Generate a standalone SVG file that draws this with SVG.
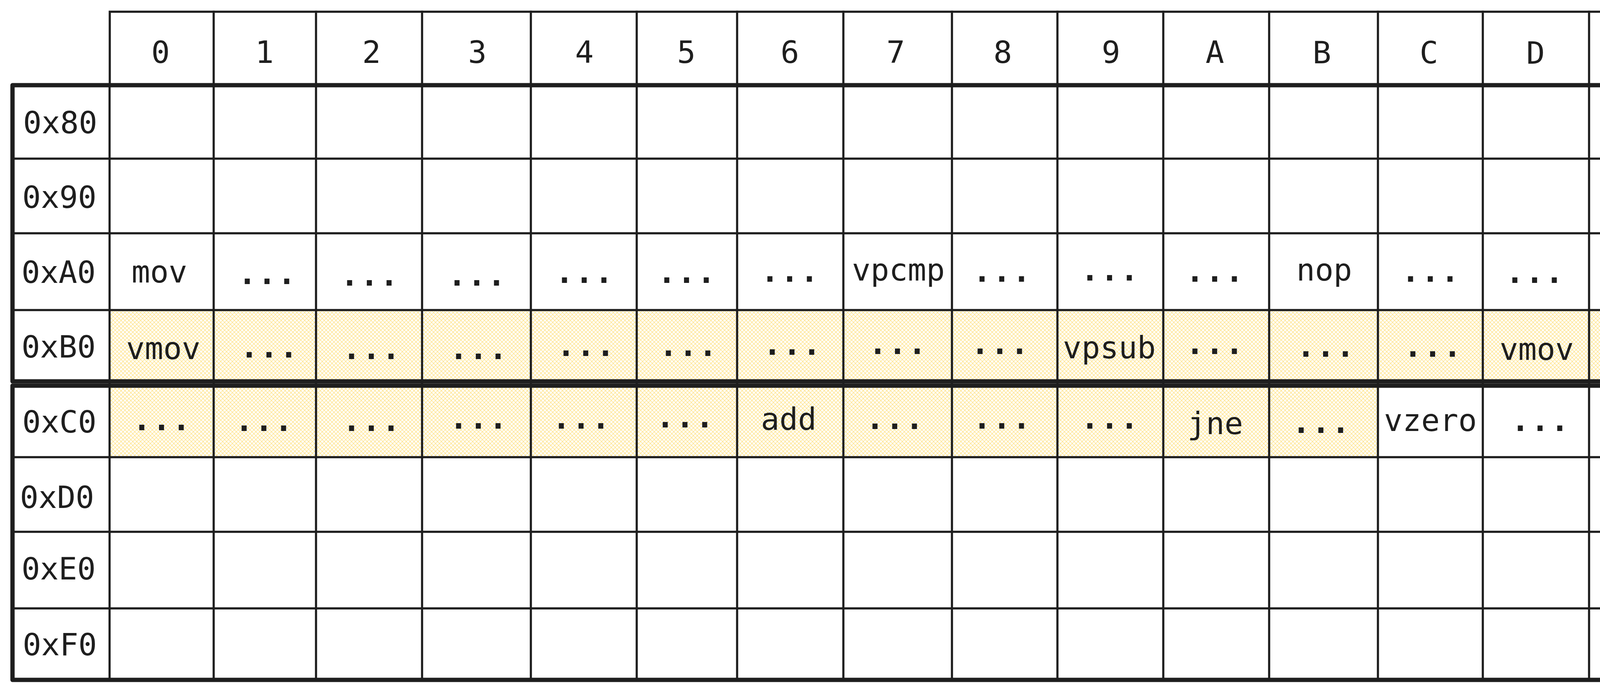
<svg xmlns="http://www.w3.org/2000/svg" width="5056" height="1771" viewBox="0 0 5056 1771">
<style>
.t{font-family:"DejaVu Sans Mono","Liberation Mono",monospace;font-size:79px;fill:#1e1e1e;text-anchor:middle}
.d{font-weight:bold;letter-spacing:3px}
.thin{stroke:#1e1e1e;stroke-width:5.5;fill:none;stroke-linecap:square}
.thick{stroke:#1e1e1e;stroke-width:11;fill:none;stroke-linejoin:round}
.br{stroke:#1e1e1e;fill:none;stroke-linecap:round;stroke-linejoin:round}
</style>
<defs>
<pattern id="xh" patternUnits="userSpaceOnUse" width="10" height="10">
<path d="M-1,-1 L11,11 M-1,11 L11,-1" stroke="#ffe38a" stroke-width="1.4" fill="none"/>
</pattern>
</defs>
<rect width="5056" height="1771" fill="#ffffff"/>

<g id="highlight">
<rect x="280.5" y="793.5" width="4320.5" height="182.5" fill="url(#xh)"/>
<rect x="280.5" y="987" width="3247" height="183" fill="url(#xh)"/>
</g>

<g id="grid">
<rect class="thin" x="281" y="30" width="4320" height="188"/>
<path class="thin" d="M547,30V1740 M809,30V1740 M1080.5,30V1740 M1359,30V1740 M1630,30V1740 M1887,30V1740 M2159,30V1740 M2437,30V1740 M2707,30V1740 M2978,30V1740 M3249,30V1740 M3527.5,30V1740 M3796,30V1740 M4068,30V1740 M4338.5,30V1740 M280.5,218V1740"/>
<path class="thin" d="M32,406H4601 M32,597H4601 M32,793.5H4601 M32,1170H4601 M32,1361H4601 M32,1557H4601"/>
<rect id="cacheline-1" class="thick" x="32" y="218" width="4569.5" height="758"/>
<rect id="cacheline-2" class="thick" x="32" y="987" width="4569.5" height="753"/>
</g>

<g id="header">
<text class="t" x="411" y="161">0</text>
<text class="t" x="677" y="161">1</text>
<text class="t" x="951" y="161">2</text>
<text class="t" x="1222" y="161">3</text>
<text class="t" x="1496" y="161">4</text>
<text class="t" x="1757" y="161">5</text>
<text class="t" x="2022" y="161">6</text>
<text class="t" x="2293" y="161">7</text>
<text class="t" x="2567" y="161">8</text>
<text class="t" x="2844" y="161">9</text>
<text class="t" x="3110" y="161">A</text>
<text class="t" x="3384" y="162">B</text>
<text class="t" x="3658" y="162">C</text>
<text class="t" x="3931" y="163">D</text>
<text class="t" x="4198" y="162">E</text>
<text class="t" x="4471" y="164">F</text>
</g>

<g id="row-labels">
<text class="t" x="154" y="341">0x80</text>
<text class="t" x="152" y="532">0x90</text>
<text class="t" x="150" y="724">0xA0</text>
<text class="t" x="150" y="915">0xB0</text>
<text class="t" x="152" y="1107">0xC0</text>
<text class="t" x="146" y="1300">0xD0</text>
<text class="t" x="150" y="1483">0xE0</text>
<text class="t" x="153" y="1677">0xF0</text>
</g>

<g id="row-0xA0">
<text class="t" x="408" y="723">mov</text>
<text class="t d" x="685" y="727">...</text>
<text class="t d" x="947" y="731">...</text>
<text class="t d" x="1222" y="731">...</text>
<text class="t d" x="1497" y="724">...</text>
<text class="t d" x="1759" y="724">...</text>
<text class="t d" x="2023" y="721">...</text>
<text class="t" x="2300" y="718">vpcmp</text>
<text class="t d" x="2566" y="721">...</text>
<text class="t d" x="2842" y="718">...</text>
<text class="t d" x="3111" y="721">...</text>
<text class="t" x="3390" y="718">nop</text>
<text class="t d" x="3663" y="721">...</text>
<text class="t d" x="3930" y="724">...</text>
<text class="t d" x="4206" y="727">...</text>
<text class="t d" x="4478" y="727">...</text>
</g>

<g id="row-0xB0">
<text class="t" x="418" y="919">vmov</text>
<text class="t d" x="690" y="915">...</text>
<text class="t d" x="952" y="919">...</text>
<text class="t d" x="1226" y="919">...</text>
<text class="t d" x="1501" y="911">...</text>
<text class="t d" x="1763" y="911">...</text>
<text class="t d" x="2029" y="908">...</text>
<text class="t d" x="2299" y="906">...</text>
<text class="t d" x="2561" y="906">...</text>
<text class="t" x="2840" y="917">vpsub</text>
<text class="t d" x="3111" y="906">...</text>
<text class="t d" x="3395" y="913">...</text>
<text class="t d" x="3669" y="913">...</text>
<text class="t" x="3934" y="921">vmov</text>
<text class="t d" x="4199" y="909">...</text>
<text class="t d" x="4478" y="906">...</text>
</g>

<g id="row-0xC0">
<text class="t d" x="415" y="1101">...</text>
<text class="t d" x="677" y="1103">...</text>
<text class="t d" x="952" y="1103">...</text>
<text class="t d" x="1226" y="1097">...</text>
<text class="t d" x="1489" y="1097">...</text>
<text class="t d" x="1755" y="1094">...</text>
<text class="t" x="2019" y="1100">add</text>
<text class="t d" x="2292" y="1098">...</text>
<text class="t d" x="2566" y="1097">...</text>
<text class="t d" x="2842" y="1097">...</text>
<text class="t" x="3111" y="1111">jne</text>
<text class="t d" x="3383" y="1108">...</text>
<text class="t" x="3662" y="1103">vzero</text>
<text class="t d" x="3944" y="1103">...</text>
<text class="t d" x="4219" y="1103">...</text>
<text class="t" x="4461" y="1103">ret</text>
</g>

<g id="brace-1">
<path class="br" stroke-width="3.2" d="M4626,230 C4648,222 4672,216 4680,250 C4686,275 4687,300 4687,330 L4687,520 C4688,570 4700,590 4738,606 C4705,620 4694,640 4692,700 L4688,920 C4687,950 4680,968 4626,975"/>
<path class="br" stroke-width="2" d="M4631,227 C4652,219 4676,219 4683,252 C4689,277 4690,300 4690,330 L4690,520 C4691,568 4703,588 4740,604 C4708,618 4697,640 4695,700 L4691,920 C4690,952 4683,970 4631,972"/>
<text class="t" x="4889" y="480">cache</text>
<text class="t" x="4889" y="583">line</text>
<text class="t" x="4889" y="690">0x80-</text>
<text class="t" x="4889" y="793">0xBF</text>
</g>

<g id="brace-2">
<path class="br" stroke-width="3.2" d="M4632,992 C4655,984 4675,990 4686,1030 C4692,1050 4693,1070 4693,1090 L4693,1300 C4695,1345 4710,1355 4746,1367 C4712,1380 4702,1395 4700,1440 L4693,1660 C4690,1710 4675,1735 4632,1736"/>
<path class="br" stroke-width="2" d="M4637,989 C4659,982 4679,990 4689,1030 C4695,1050 4696,1070 4696,1090 L4696,1300 C4698,1343 4713,1353 4748,1365 C4715,1378 4705,1395 4703,1440 L4696,1660 C4693,1712 4678,1732 4637,1733"/>
<text class="t" x="4910" y="1244">cache</text>
<text class="t" x="4910" y="1347">line</text>
<text class="t" x="4910" y="1453">0xC0-</text>
<text class="t" x="4910" y="1558">0xFF</text>
</g>
</svg>
